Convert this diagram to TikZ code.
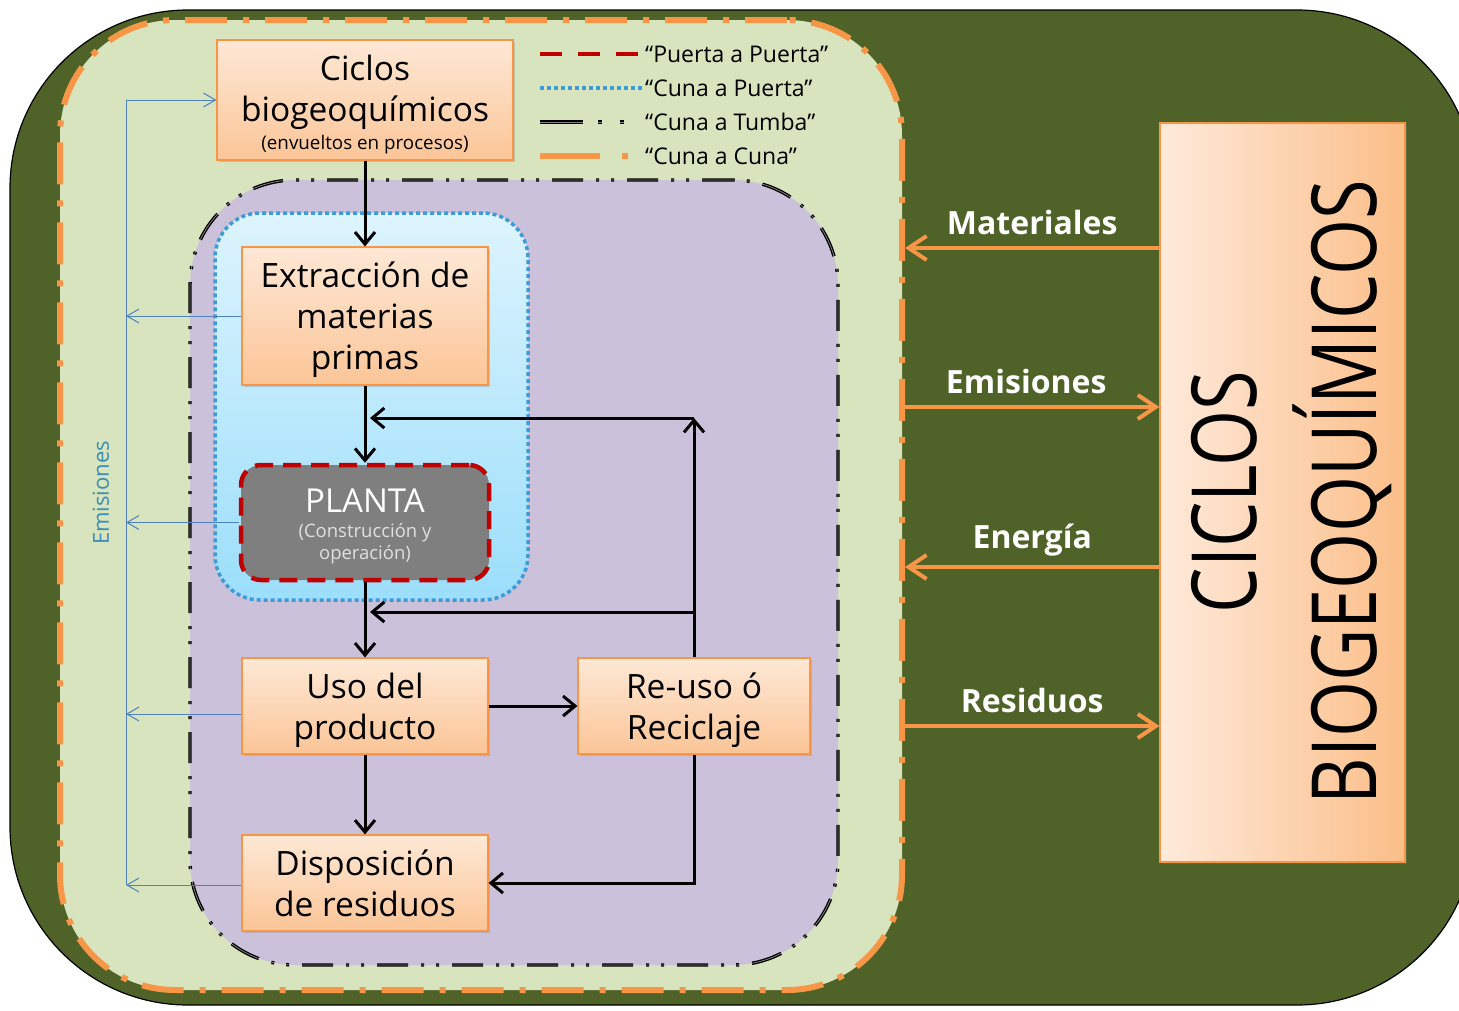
\documentclass[tikz,border=0pt]{standalone}
\usepackage{fontspec}
\setmainfont{Open Sans}
\usepackage{graphicx}
\usetikzlibrary{arrows.meta,shadows}
\definecolor{cOlive}{HTML}{4F6228}
\definecolor{cLG}{HTML}{D7E4BD}
\definecolor{cOr}{HTML}{F79646}
\definecolor{cPur}{HTML}{CCC1DA}
\definecolor{cBlueTop}{HTML}{DDF4FD}
\definecolor{cBlueBot}{HTML}{9BDEFB}
\definecolor{cBlueDot}{HTML}{3E9BD8}
\definecolor{cRed}{HTML}{C00000}
\definecolor{cBoxTop}{HTML}{FEE8D6}
\definecolor{cBoxBot}{HTML}{FBC597}
\definecolor{cBigL}{HTML}{FEEADB}
\definecolor{cBigR}{HTML}{FBBE88}
\definecolor{cLine}{HTML}{4F81BD}
\definecolor{cEm}{HTML}{3B8DB3}
\definecolor{cGray}{HTML}{7F7F7F}
\newcommand{\tstrut}{\rule{0pt}{34pt}}
\begin{document}
\begin{tikzpicture}[x=1pt,y=-1pt,
  obox/.style={rectangle, draw=cOr, line width=1.2pt, top color=cBoxTop, bottom color=cBoxBot,
    inner sep=0pt, align=center, font=\fontsize{33.5}{41}\selectfont,
    drop shadow={shadow xshift=2pt, shadow yshift=-2pt, opacity=0.3}},
  bk/.style={draw=black, line width=3pt, -{Straight Barb[length=12pt,width=20pt]}},
  bl/.style={draw=cLine, line width=1pt},
  bla/.style={bl, -{Straight Barb[length=12pt,width=14pt]}},
  oa/.style={draw=cOr, line width=4pt, -{Straight Barb[length=18pt,width=24pt]}},
  olab/.style={text=white, font=\bfseries\fontsize{32}{36}\selectfont},
  legt/.style={anchor=west, font=\fontsize{23}{27}\selectfont, inner sep=0pt},
  dbl/.style={draw=black, double=gray, double distance=0.8pt, line width=1.3pt}
]
\useasboundingbox (0,0) rectangle (1459,1010);
\fill[white] (0,0) rectangle (1459,1010);

% containers
\node[draw=black, line width=1.2pt, fill=cOlive, rounded corners=178pt,
  minimum width=1465pt, minimum height=995pt, inner sep=0pt] (outer) at (742.5,507.5) {};
\node[fill=cLG, draw=cOr, line width=6pt, dash pattern=on 42pt off 16pt on 6pt off 16pt,
  rounded corners=115pt, minimum width=842pt, minimum height=970pt, inner sep=0pt] (lg) at (481,505) {};
\node[fill=cPur, dbl, dash pattern=on 31pt off 13pt on 3pt off 12pt on 3pt off 13pt,
  rounded corners=105pt, minimum width=648pt, minimum height=785pt, inner sep=0pt] (pur) at (514,572.5) {};
\node[top color=cBlueTop, bottom color=cBlueBot, draw=cBlueDot, line width=3.5pt,
  dash pattern=on 4pt off 3pt, rounded corners=45pt,
  minimum width=313pt, minimum height=387pt, inner sep=0pt] (blu) at (371.5,406.5) {};

% boxes
\node[obox, minimum width=296pt, minimum height=120pt] (cic) at (365,100)
  {\tstrut Ciclos\\biogeoquímicos\\[-13pt]{\fontsize{18.8}{22}\selectfont (envueltos en procesos)}};
\node[obox, minimum width=246pt, minimum height=138pt] (ext) at (365,316)
  {\tstrut Extracción de\\materias\\primas};
\node[rectangle, fill=cGray, draw=cRed, line width=4.5pt, dash pattern=on 18pt off 10pt,
  rounded corners=20pt, minimum width=248pt, minimum height=115pt, inner sep=0pt,
  align=center, text=white, font=\fontsize{18.5}{22}\selectfont] (plant) at (365,522.5)
  {\rule{0pt}{31pt}{\fontsize{33}{38}\selectfont PLANTA}\\[3pt]\textcolor{white!88!black}{(Construcción y}\\\textcolor{white!88!black}{operación)}};
\node[obox, minimum width=246pt, minimum height=96pt] (uso) at (365,706) {\tstrut Uso del\\producto};
\node[obox, minimum width=232pt, minimum height=96pt] (reu) at (694,706) {\tstrut Re-uso ó\\Reciclaje};
\node[obox, minimum width=246pt, minimum height=96pt] (disp) at (365,883) {\tstrut Disposición\\de residuos\rule[-8pt]{0pt}{8pt}};

\node[rectangle, draw=cOr, line width=1.2pt, left color=cBigL, right color=cBigR,
  minimum width=245pt, minimum height=739pt, inner sep=0pt,
  drop shadow={shadow xshift=2pt, shadow yshift=-2pt, opacity=0.3}] (cb) at (1282.5,492.5) {};
\node[rotate=90, align=center, font=\fontsize{90}{120}\selectfont, inner sep=0pt] (cbt) at (1292,492)
  {\scalebox{0.8}[1]{CICLOS}\\\scalebox{0.8}[1]{BIOGEOQUÍMICOS}};

% legend
\draw[draw=cRed, line width=4.5pt, dash pattern=on 22pt off 16pt] (540,54) -- (640,54);
\draw[draw=cBlueDot, line width=3.5pt, dash pattern=on 4pt off 3pt] (540,88) -- (642,88);
\draw[dbl, dash pattern=on 43pt off 15pt on 4pt off 18pt on 4pt off 18pt] (540,122) -- (640,122);
\draw[draw=cOr, line width=6pt, dash pattern=on 60pt off 22pt on 6pt off 20pt] (540,156) -- (630,156);
\node[legt] (leg1) at (645,54) {“Puerta a Puerta”};
\node[legt] (leg2) at (645,88) {“Cuna a Puerta”};
\node[legt] (leg3) at (645,122) {“Cuna a Tumba”};
\node[legt] (leg4) at (645,156) {“Cuna a Cuna”};

% emissions (blue)
\coordinate (e1) at (126,100);
\coordinate (e2) at (126,885);
\coordinate (u0) at ([yshift=-8pt]uso.west);
\coordinate (d0) at ([yshift=-2pt]disp.west);
\draw[bl] (e1) -- (e2);
\draw[bla] (e1) -- (cic.west);
\draw[bla] (ext.west) -- (ext.west -| e1);
\draw[bla] (plant.west) -- (plant.west -| e1);
\draw[bla] (u0) -- (u0 -| e1);
\draw[bla] (d0) -- (d0 -| e1);
\node[rotate=90, text=cEm, font=\fontsize{22}{26}\selectfont] (eml) at (101,493) {Emisiones};

% black flow
\coordinate (t1) at (694,418);
\coordinate (j1) at (370,418);
\coordinate (t2) at (694,612);
\coordinate (j2) at (370,612);
\draw[bk] (cic.south) -- (ext.north);
\draw[bk] (ext.south) -- (plant.north);
\draw[bk] (plant.south) -- (uso.north);
\draw[bk] (uso.south) -- (disp.north);
\draw[bk] (uso.east) -- (reu.west);
\draw[bk] (reu.north) -- (t1);
\draw[bk] (t1) -- (j1);
\draw[bk] (t2) -- (j2);
\draw[bk] (reu.south) |- (disp.east);

% orange exchanges
\draw[oa] (cb.west |- 0,248) -- (lg.east |- 0,248) node[olab, midway, yshift=26pt] (lmat) {Materiales};
\draw[oa] (lg.east |- 0,407) -- (cb.west |- 0,407) node[olab, midway, yshift=26pt, xshift=-6pt] (lemi) {Emisiones};
\draw[oa] (cb.west |- 0,567) -- (lg.east |- 0,567) node[olab, midway, yshift=27pt] (lene) {Energía};
\draw[oa] (lg.east |- 0,726) -- (cb.west |- 0,726) node[olab, midway, yshift=26pt] (lres) {Residuos};
\end{tikzpicture}
\end{document}
